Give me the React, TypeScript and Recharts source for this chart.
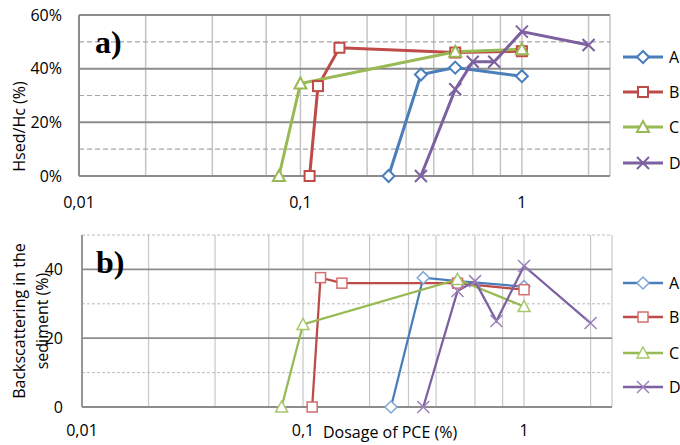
import { LineChart, Line, XAxis, YAxis, CartesianGrid } from "recharts";

// dosage axis (log)
const xDomain = [0.01, 2.5];
const xTicks = [0.01, 0.1, 1];
const xGridValues = [
  0.02, 0.03, 0.04, 0.05, 0.06, 0.07, 0.08, 0.09, 0.1,
  0.2, 0.3, 0.4, 0.5, 0.6, 0.7, 0.8, 0.9, 1, 2, 2.5,
];

// a) Hsed/Hc (%)
const hTicks = [0, 20, 40, 60];
const hMinor = [10, 30, 50];
const hA = [{ x: 0.25, y: 0 }, { x: 0.35, y: 37.8 }, { x: 0.5, y: 40.4 }, { x: 1, y: 37.2 }];
const hB = [{ x: 0.11, y: 0 }, { x: 0.12, y: 33.5 }, { x: 0.15, y: 47.8 }, { x: 0.5, y: 46 }, { x: 1, y: 46.5 }];
const hC = [{ x: 0.08, y: 0 }, { x: 0.1, y: 34.5 }, { x: 0.5, y: 46.3 }, { x: 1, y: 47.2 }];
const hD = [
  { x: 0.35, y: 0 }, { x: 0.5, y: 32.3 }, { x: 0.6, y: 42.6 },
  { x: 0.75, y: 42.6 }, { x: 1, y: 53.8 }, { x: 2, y: 48.8 },
];

// b) Backscattering in the sediment (%)
const bTicks = [0, 20, 40];
const bMajor = [20, 40];
const bMinor = [10, 30, 50];
const bA = [{ x: 0.25, y: 0 }, { x: 0.35, y: 37.6 }, { x: 0.5, y: 36.6 }, { x: 1, y: 35 }];
const bB = [{ x: 0.11, y: 0 }, { x: 0.12, y: 37.6 }, { x: 0.15, y: 36 }, { x: 0.5, y: 36 }, { x: 1, y: 34.1 }];
const bC = [{ x: 0.08, y: 0 }, { x: 0.1, y: 24 }, { x: 0.5, y: 37.1 }, { x: 1, y: 29.2 }];
const bD = [
  { x: 0.35, y: 0 }, { x: 0.5, y: 33.7 }, { x: 0.6, y: 36.6 },
  { x: 0.75, y: 25 }, { x: 1, y: 41 }, { x: 2, y: 24.4 },
];

const seriesNames = ["A", "B", "C", "D"];
const shapes = ["diamond", "square", "triangle", "cross"];
const colors = ["#4a7ebb", "#be4b48", "#98b954", "#7d60a0"];
const lightColors = ["#7ea6d8", "#d46f6c", "#a8c76c", "#9a82bb"];

const FONT = "'Open Sans', sans-serif";
const fmtX = (v: number) => String(v).replace(".", ",");

const Marker = ({ cx, cy, shape, color, fill = "#fff", sw = 2 }: any) => {
  if (cx == null || cy == null) return null;
  if (shape === "diamond")
    return <polygon points={`${cx},${cy - 6} ${cx + 6},${cy} ${cx},${cy + 6} ${cx - 6},${cy}`} fill={fill} stroke={color} strokeWidth={sw} />;
  if (shape === "square")
    return <rect x={cx - 5} y={cy - 5} width={10} height={10} fill={fill} stroke={color} strokeWidth={sw} />;
  if (shape === "triangle")
    return <polygon points={`${cx},${cy - 6} ${cx + 6},${cy + 5} ${cx - 6},${cy + 5}`} fill={fill} stroke={color} strokeWidth={sw} />;
  return (
    <g stroke={color} strokeWidth={sw}>
      <line x1={cx - 6} y1={cy - 6} x2={cx + 6} y2={cy + 6} />
      <line x1={cx - 6} y1={cy + 6} x2={cx + 6} y2={cy - 6} />
    </g>
  );
};

const YTitle = ({ viewBox, lines, x0 }: any) => {
  const cy = viewBox.y + viewBox.height / 2;
  return (
    <g>
      {lines.map((l: any, i: number) => (
        <text
          key={i}
          x={l.x}
          y={cy + (l.dy || 0)}
          transform={`rotate(-90 ${l.x} ${cy + (l.dy || 0)})`}
          textAnchor="middle"
          dominantBaseline="central"
          fontFamily={FONT}
          fontSize={16}
          fill="#000"
        >
          {l.text}
        </text>
      ))}
    </g>
  );
};

const Legend = ({ top, rows, light }: any) => (
  <svg style={{ position: "absolute", left: 615, top, overflow: "visible" }} width={65} height={140}>
    {seriesNames.map((name, i) => (
      <g key={name} transform={`translate(0, ${rows[i]})`}>
        <line x1={8} x2={48} y1={0} y2={0} stroke={colors[i]} strokeWidth={light ? 2.5 : 3} />
        <Marker cx={28} cy={0} shape={shapes[i]} color={light ? lightColors[i] : colors[i]} sw={light ? 1.5 : 2} />
        <text x={54} y={0} dominantBaseline="central" fontFamily={FONT} fontSize={16} fill="#000">
          {name}
        </text>
      </g>
    ))}
  </svg>
);

const renderLines = (sets: any[], thick: boolean) =>
  sets.map((d, i) => (
    <Line
      key={seriesNames[i]}
      data={d}
      dataKey="y"
      name={seriesNames[i]}
      type="linear"
      stroke={colors[i]}
      strokeWidth={thick ? 3 : 2.25}
      isAnimationActive={false}
      dot={(p: any) => (
        <Marker
          key={`${seriesNames[i]}-${p.index}`}
          cx={p.cx}
          cy={p.cy}
          shape={shapes[i]}
          color={thick ? colors[i] : lightColors[i]}
          sw={thick ? 2 : 1.5}
        />
      )}
      activeDot={false}
    />
  ));

const tickStyle = { fontFamily: FONT, fontSize: 16, fill: "#000" };

export default function App() {
  return (
    <div style={{ position: "absolute", left: 0, top: 0, width: 680, height: 445, background: "#fff" }}>
      {/* a) */}
      <div style={{ position: "absolute", left: 0, top: 0 }}>
        <LineChart width={680} height={215} margin={{ top: 15, right: 70, bottom: 0, left: 0 }}>
          <CartesianGrid horizontal={false} verticalValues={xGridValues} stroke="#c4c4c4" strokeWidth={1.5} />
          <CartesianGrid vertical={false} horizontalValues={hMinor} stroke="#a6a6a6" strokeDasharray="5 3" strokeWidth={1.2} />
          <CartesianGrid vertical={false} horizontalValues={[20, 40, 60]} stroke="#8c8c8c" strokeWidth={2} />
          <XAxis
            dataKey="x"
            type="number"
            scale="log"
            domain={xDomain}
            ticks={xTicks}
            allowDataOverflow
            tickFormatter={fmtX}
            tickLine={false}
            tickSize={0}
            tickMargin={21}
            height={39}
            axisLine={{ stroke: "#8c8c8c", strokeWidth: 2 }}
            tick={tickStyle}
          />
          <YAxis
            type="number"
            domain={[0, 60]}
            ticks={hTicks}
            tickFormatter={(v) => `${v}%`}
            width={79}
            tickLine={false}
            tickSize={0}
            tickMargin={17}
            axisLine={{ stroke: "#8c8c8c", strokeWidth: 2 }}
            tick={tickStyle}
            label={<YTitle lines={[{ text: "Hsed/Hc (%)", x: 19, dy: 31 }]} />}
          />
          {renderLines([hA, hB, hC, hD], true)}
        </LineChart>
        <div style={{ position: "absolute", left: 95, top: 24, fontFamily: "'Liberation Serif', serif", fontWeight: "bold", fontSize: 32 }}>
          a)
        </div>
        <Legend top={0} rows={[57, 92, 127, 163]} />
      </div>

      {/* b) */}
      <div style={{ position: "absolute", left: 0, top: 215 }}>
        <LineChart width={680} height={230} margin={{ top: 20, right: 68, bottom: 0, left: 0 }}>
          <CartesianGrid horizontal={false} verticalValues={xGridValues} stroke="#c8c8c8" strokeWidth={1.2} />
          <CartesianGrid vertical={false} horizontalValues={bMinor} stroke="#bdbdbd" strokeDasharray="3 2" strokeWidth={1} />
          <CartesianGrid vertical={false} horizontalValues={bMajor} stroke="#8c8c8c" strokeWidth={1.8} />
          <XAxis
            dataKey="x"
            type="number"
            scale="log"
            domain={xDomain}
            ticks={xTicks}
            allowDataOverflow
            tickFormatter={fmtX}
            tickLine={false}
            tickSize={0}
            tickMargin={18}
            height={38}
            axisLine={{ stroke: "#8c8c8c", strokeWidth: 1.8 }}
            tick={tickStyle}
          />
          <YAxis
            type="number"
            domain={[0, 50]}
            ticks={bTicks}
            width={82}
            tickLine={false}
            tickSize={0}
            tickMargin={19}
            axisLine={{ stroke: "#8c8c8c", strokeWidth: 1.8 }}
            tick={tickStyle}
            label={
              <YTitle
                lines={[
                  { text: "Backscattering in the", x: 19 },
                  { text: "sediment (%)", x: 42 },
                ]}
              />
            }
          />
          {renderLines([bA, bB, bC, bD], false)}
        </LineChart>
        <div style={{ position: "absolute", left: 96, top: 29, fontFamily: "'Liberation Serif', serif", fontWeight: "bold", fontSize: 32 }}>
          b)
        </div>
        <div style={{ position: "absolute", left: 323, top: 206, fontFamily: FONT, fontSize: 16 }}>Dosage of PCE (%)</div>
        <Legend top={0} rows={[68, 102, 138, 172]} light />
      </div>
    </div>
  );
}
